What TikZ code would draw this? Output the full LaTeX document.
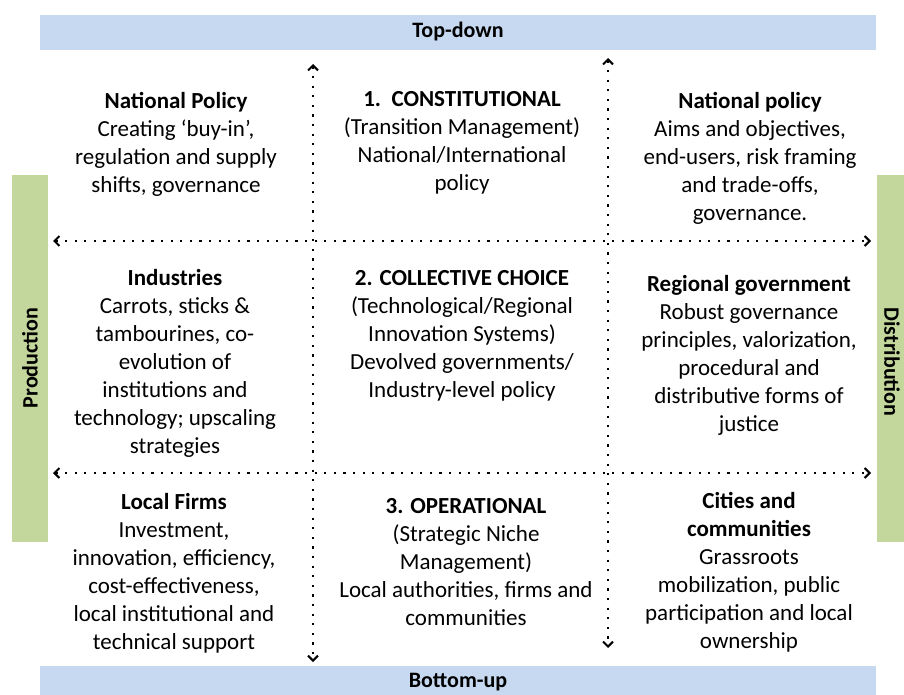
\documentclass[tikz,border=0pt]{standalone}
\usepackage{fontspec}
\setmainfont{Carlito}
\usetikzlibrary{arrows.meta}
\definecolor{barblue}{RGB}{198,217,240}
\definecolor{bargreen}{RGB}{195,214,155}
\tikzset{
  txt/.style={align=center,font=\fontsize{23}{28}\selectfont,inner sep=0pt},
  bartxt/.style={inner sep=0pt,font=\fontsize{22}{28}\selectfont\bfseries},
  dotarrow/.style={line width=2.2pt,dash pattern=on 2.2pt off 7.4pt,
     {Straight Barb[length=5pt,width=10pt,line width=2pt]}-{Straight Barb[length=5pt,width=10pt,line width=2pt]}},
}
\begin{document}
\begin{tikzpicture}[x=1pt,y=-1pt]
\useasboundingbox (0,0) rectangle (904,695);
% bars
\fill[barblue] (40,15) rectangle (876,50);
\node[bartxt] (top) at (458,32) {Top-down};
\fill[barblue] (40,666) rectangle (876,695);
\node[bartxt] (bot) at (458,682) {Bottom-up};
\fill[bargreen] (12,175) rectangle (48,542);
\node[bartxt,rotate=90] (prod) at (30,358) {Production};
\fill[bargreen] (877,175) rectangle (904,542);
\node[bartxt,rotate=-90] (dist) at (892,362) {Distribution};
% arrows
\coordinate (v1t) at (313,64); \coordinate (v1b) at (313,662);
\coordinate (v2t) at (608,58); \coordinate (v2b) at (608,648);
\coordinate (h1l) at (53,241); \coordinate (h1r) at (871,241);
\coordinate (h2l) at (53,473); \coordinate (h2r) at (871,473);
\draw[dotarrow] (v1t) -- (v1b);
\draw[dotarrow] (v2t) -- (v2b);
\draw[dotarrow] (h1l) -- (h1r);
\draw[dotarrow] (h2l) -- (h2r);
% row 1
\node[txt] (a1) at (176,144) {\textbf{National Policy}\\Creating ‘buy-in’,\\regulation and supply\\shifts, governance};
\node[txt] (b1) at (462,143) {\textbf{1.\ \ CONSTITUTIONAL}\\(Transition Management)\\National/International\\policy};
\node[txt] (c1) at (750,158) {\textbf{National policy}\\Aims and objectives,\\end-users, risk framing\\and trade-offs,\\governance.};
% row 2
\node[txt] (a2) at (175,363) {\textbf{Industries}\\Carrots, sticks \&\\tambourines, co-\\evolution of\\institutions and\\technology; upscaling\\strategies};
\node[txt] (b2) at (462,336) {\textbf{2. COLLECTIVE CHOICE}\\(Technological/Regional\\Innovation Systems)\\Devolved governments/\\Industry-level policy};
\node[txt] (c2) at (749,355) {\textbf{Regional government}\\Robust governance\\principles, valorization,\\procedural and\\distributive forms of\\justice};
% row 3
\node[txt] (a3) at (174,573) {\textbf{Local Firms}\\Investment,\\innovation, efficiency,\\cost-effectiveness,\\local institutional and\\technical support};
\node[txt] (b3) at (466,562) {\textbf{3. OPERATIONAL}\\(Strategic Niche\\Management)\\Local authorities, firms and\\communities};
\node[txt] (c3) at (749,572) {\textbf{Cities and}\\\textbf{communities}\\Grassroots\\mobilization, public\\participation and local\\ownership};
\end{tikzpicture}
\end{document}
